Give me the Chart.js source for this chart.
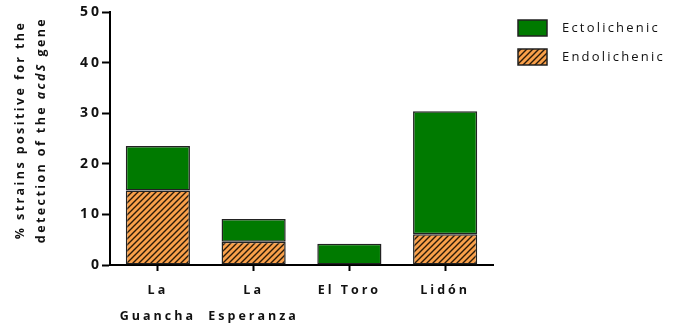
<!DOCTYPE html>
<html>
<head>
<meta charset="utf-8">
<script src="https://cdn.jsdelivr.net/npm/chart.js@4.4.1/dist/chart.umd.min.js"></script>
<style>
  html, body { margin: 0; padding: 0; background: #fff; }
  #wrap { width: 673px; height: 329px; position: relative; }
</style>
</head>
<body>
<div id="wrap"><canvas id="acds"></canvas></div>
<script>
// Sites and % of strains carrying acdS, split by lichen niche
const sites = [['La', 'Guancha'], ['La', 'Esperanza'], 'El Toro', 'Lidón'];
const endolichenic = [14.7, 4.6, 0, 6.1];
const ectolichenic = [8.8, 4.5, 4.2, 24.3];
const yTicks = [0, 10, 20, 30, 40, 50];

const FONT = "'Open Sans', 'DejaVu Sans', sans-serif";
const GREEN = '#007a00';
const ORANGE = '#f9a04a';
const EDGE = '#222222';

// diagonal hatch fill for the endolichenic bars
function makeHatch() {
  const c = document.createElement('canvas');
  c.width = 6; c.height = 6;
  const g = c.getContext('2d');
  g.fillStyle = ORANGE;
  g.fillRect(0, 0, 6, 6);
  g.strokeStyle = '#2a1a08';
  g.lineWidth = 1.4;
  g.beginPath();
  g.moveTo(-1, 7); g.lineTo(7, -1);
  g.moveTo(-4, 4); g.lineTo(4, -4);
  g.moveTo(2, 10); g.lineTo(10, 2);
  g.stroke();
  return g.createPattern(c, 'repeat');
}
const hatch = makeHatch();

// wide letter spacing for the axis text
const spacingPlugin = {
  id: 'spacing',
  beforeDraw(chart) { chart.ctx.letterSpacing = '3px'; },
  afterDraw(chart) { chart.ctx.letterSpacing = '0px'; }
};

// two-line rotated y title with italic gene name
const yTitlePlugin = {
  id: 'yTitle',
  afterDraw(chart) {
    const ctx = chart.ctx;
    const lines = [
      { x: 20, parts: [['% strains positive for the', false]] },
      { x: 41, parts: [['detection of the ', false], ['acdS', true], [' gene', false]] }
    ];
    const cy = 130;
    ctx.save();
    ctx.letterSpacing = '2.4px';
    ctx.fillStyle = '#111';
    ctx.textBaseline = 'middle';
    ctx.textAlign = 'left';
    lines.forEach(line => {
      let total = 0;
      line.parts.forEach(([t, it]) => {
        ctx.font = (it ? 'italic ' : '') + 'bold 12.5px ' + FONT;
        total += ctx.measureText(t).width;
      });
      ctx.save();
      ctx.translate(line.x, cy);
      ctx.rotate(-Math.PI / 2);
      let x = -total / 2;
      line.parts.forEach(([t, it]) => {
        ctx.font = (it ? 'italic ' : '') + 'bold 12.5px ' + FONT;
        ctx.fillText(t, x, 0);
        x += ctx.measureText(t).width;
      });
      ctx.restore();
    });
    ctx.restore();
  }
};

// legend on the right, ectolichenic listed first
const legendPlugin = {
  id: 'sideLegend',
  afterDraw(chart) {
    const ctx = chart.ctx;
    const items = [
      { label: 'Ectolichenic', fill: GREEN, y: 20 },
      { label: 'Endolichenic', fill: hatch, y: 49 }
    ];
    ctx.save();
    ctx.letterSpacing = '2.2px';
    ctx.font = '13px ' + FONT;
    ctx.textBaseline = 'middle';
    ctx.textAlign = 'left';
    items.forEach(it => {
      ctx.fillStyle = it.fill;
      ctx.fillRect(518, it.y, 29, 16);
      ctx.strokeStyle = EDGE;
      ctx.lineWidth = 1.5;
      ctx.strokeRect(518, it.y, 29, 16);
      ctx.fillStyle = '#111';
      ctx.fillText(it.label, 562, it.y + 8);
    });
    ctx.restore();
  }
};

new Chart(document.getElementById('acds'), {
  type: 'bar',
  data: {
    labels: sites,
    datasets: [
      {
        label: 'Endolichenic',
        data: endolichenic,
        backgroundColor: hatch,
        borderColor: EDGE,
        borderWidth: 1.5,
        borderSkipped: false,
        barPercentage: 0.67,
        categoryPercentage: 1
      },
      {
        label: 'Ectolichenic',
        data: ectolichenic,
        backgroundColor: GREEN,
        borderColor: EDGE,
        borderWidth: 1.5,
        borderSkipped: false,
        barPercentage: 0.67,
        categoryPercentage: 1
      }
    ]
  },
  options: {
    responsive: true,
    maintainAspectRatio: false,
    animation: false,
    layout: { padding: { top: 12, right: 180, bottom: 0, left: 0 } },
    plugins: {
      legend: { display: false },
      tooltip: { enabled: false }
    },
    scales: {
      x: {
        stacked: true,
        border: { color: '#000', width: 2 },
        grid: {
          display: true,
          offset: false,
          drawOnChartArea: false,
          tickLength: 6,
          tickWidth: 2,
          tickColor: '#000'
        },
        ticks: {
          color: '#111',
          padding: 6,
          maxRotation: 0,
          font: { family: FONT, size: 12.5, weight: 'bold', lineHeight: 2.1 }
        },
        afterFit(scale) { scale.height = 64; }
      },
      y: {
        stacked: true,
        min: 0,
        max: 50,
        afterBuildTicks(scale) { scale.ticks = yTicks.map(v => ({ value: v })); },
        border: { color: '#000', width: 2 },
        grid: {
          display: true,
          drawOnChartArea: false,
          tickLength: 8,
          tickWidth: 2,
          tickColor: '#000'
        },
        ticks: {
          color: '#111',
          padding: 0,
          font: { family: FONT, size: 14, weight: 'bold' }
        },
        afterFit(scale) { scale.width = 110; }
      }
    }
  },
  plugins: [spacingPlugin, yTitlePlugin, legendPlugin]
});
</script>
</body>
</html>
